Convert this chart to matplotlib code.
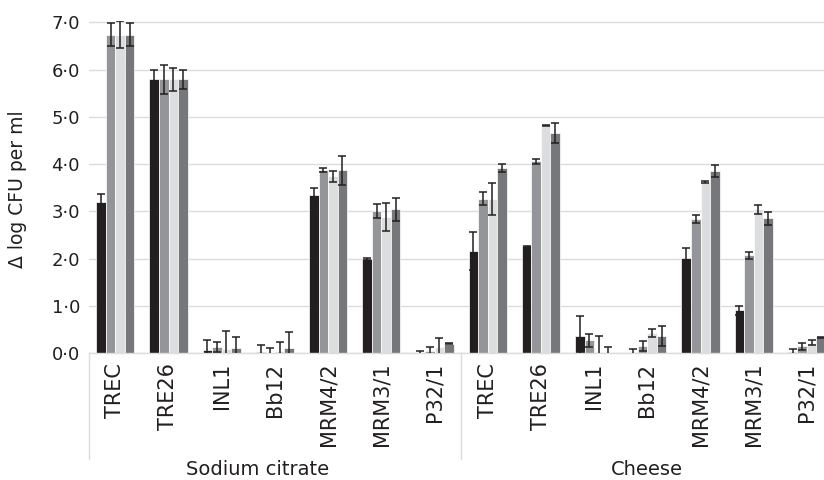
import numpy as np
import matplotlib
matplotlib.use("Agg")
import matplotlib.pyplot as plt
from matplotlib.transforms import blended_transform_factory

# Strains tested in each medium
strains = ["TREC", "TRE26", "INL1", "Bb12", "MRM4/2", "MRM3/1", "P32/1"]
media = ["Sodium citrate", "Cheese"]

# Δ log CFU per ml for the four series, strains in order, sodium citrate then cheese
series_a = [3.19, 5.79, 0.07, 0.02, 3.35, 1.99, 0.00,
            2.16, 2.26, 0.35, 0.00, 2.02, 0.90, 0.02]
series_b = [6.74, 5.79, 0.13, 0.00, 3.87, 3.00, 0.04,
            3.27, 4.06, 0.27, 0.15, 2.83, 2.07, 0.14]
series_c = [6.74, 5.79, 0.08, 0.05, 3.74, 2.88, 0.13,
            3.26, 4.81, 0.00, 0.42, 3.62, 3.04, 0.22]
series_d = [6.74, 5.79, 0.10, 0.11, 3.87, 3.04, 0.20,
            3.92, 4.65, 0.00, 0.36, 3.85, 2.85, 0.33]

# Error (±) for each series
err_a = [0.17, 0.20, 0.20, 0.14, 0.14, 0.03, 0.04,
         0.41, 0.01, 0.43, 0.08, 0.20, 0.10, 0.07]
err_b = [0.25, 0.30, 0.10, 0.11, 0.04, 0.15, 0.09,
         0.13, 0.05, 0.14, 0.10, 0.085, 0.07, 0.07]
err_c = [0.29, 0.25, 0.38, 0.19, 0.12, 0.30, 0.18,
         0.34, 0.01, 0.36, 0.09, 0.02, 0.10, 0.06]
err_d = [0.25, 0.20, 0.23, 0.33, 0.31, 0.25, 0.02,
         0.08, 0.21, 0.13, 0.21, 0.12, 0.14, 0.01]

y_ticks = [0, 1, 2, 3, 4, 5, 6, 7]
y_tick_labels = ["0·0", "1·0", "2·0", "3·0", "4·0", "5·0", "6·0", "7·0"]
y_label = "Δ log CFU per ml"

colors = ["#231f20", "#939598", "#dcdddf", "#76777b"]
err_color = "#231f20"
grid_color = "#dcdcdc"

plt.rcParams["font.family"] = ["DejaVu Sans"]

fig = plt.figure(figsize=(8.24, 4.80), dpi=100)
W, H = 824, 480
left_px, right_px = 88.7, 824
bottom_px, top_px = 353, 21.4
ax = fig.add_axes([left_px / W, (H - bottom_px) / H,
                   (right_px - left_px) / W, (bottom_px - top_px) / H])

n_groups = len(strains) * len(media)
x = np.arange(n_groups)
bar_w = 0.18
offsets = [-1.5 * bar_w, -0.5 * bar_w, 0.5 * bar_w, 1.5 * bar_w]
all_series = [series_a, series_b, series_c, series_d]
all_err = [err_a, err_b, err_c, err_d]

for vals, errs, off, col in zip(all_series, all_err, offsets, colors):
    ax.bar(x + off, vals, width=bar_w, color=col, edgecolor="white",
           linewidth=0.5, zorder=2)
for vals, errs, off in zip(all_series, all_err, offsets):
    ax.errorbar(x + off, vals, yerr=errs, fmt="none", ecolor=err_color,
                elinewidth=1.1, capsize=2.8, capthick=1.1, zorder=3)

ax.set_ylim(0, (bottom_px - top_px) / 47.24)
ax.set_xlim(-0.5, -0.5 + (right_px - left_px) / 53.2)
ax.set_yticks(y_ticks)
ax.set_yticklabels(y_tick_labels)
ax.yaxis.grid(True, color=grid_color, linewidth=1.0, zorder=0)
ax.set_axisbelow(True)
ax.tick_params(axis="y", length=0, pad=6.3, labelsize=13, colors="#231f20")
for s in ["top", "right", "left"]:
    ax.spines[s].set_visible(False)
ax.spines["bottom"].set_color(grid_color)
ax.spines["bottom"].set_linewidth(1.0)

# strain labels under each group
ax.set_xticks(x)
ax.set_xticklabels(strains * len(media), rotation=90, va="top", ha="center")
ax.tick_params(axis="x", length=0, pad=7, labelsize=15, colors="#231f20")

# medium boxes and labels beneath the strain labels
trans = blended_transform_factory(ax.transData, ax.transAxes)
ax_h = bottom_px - top_px
box_bottom = -(459 - bottom_px) / ax_h
n_s = len(strains)
for i, m in enumerate(media):
    x0 = i * n_s - 0.5
    ax.plot([x0, x0], [0, box_bottom], transform=trans, color=grid_color,
            linewidth=1.0, clip_on=False)
label_centers = [2.68, 10.0]
for m, cx in zip(media, label_centers):
    ax.text(cx, -(469.5 - bottom_px) / ax_h, m, transform=trans,
            ha="center", va="center", fontsize=14, color="#231f20")

fig.text(18 / W, 1 - 189 / H, y_label, rotation=90, ha="center",
         va="center", fontsize=13.5, color="#231f20")

fig.savefig("out.png", dpi=100)
